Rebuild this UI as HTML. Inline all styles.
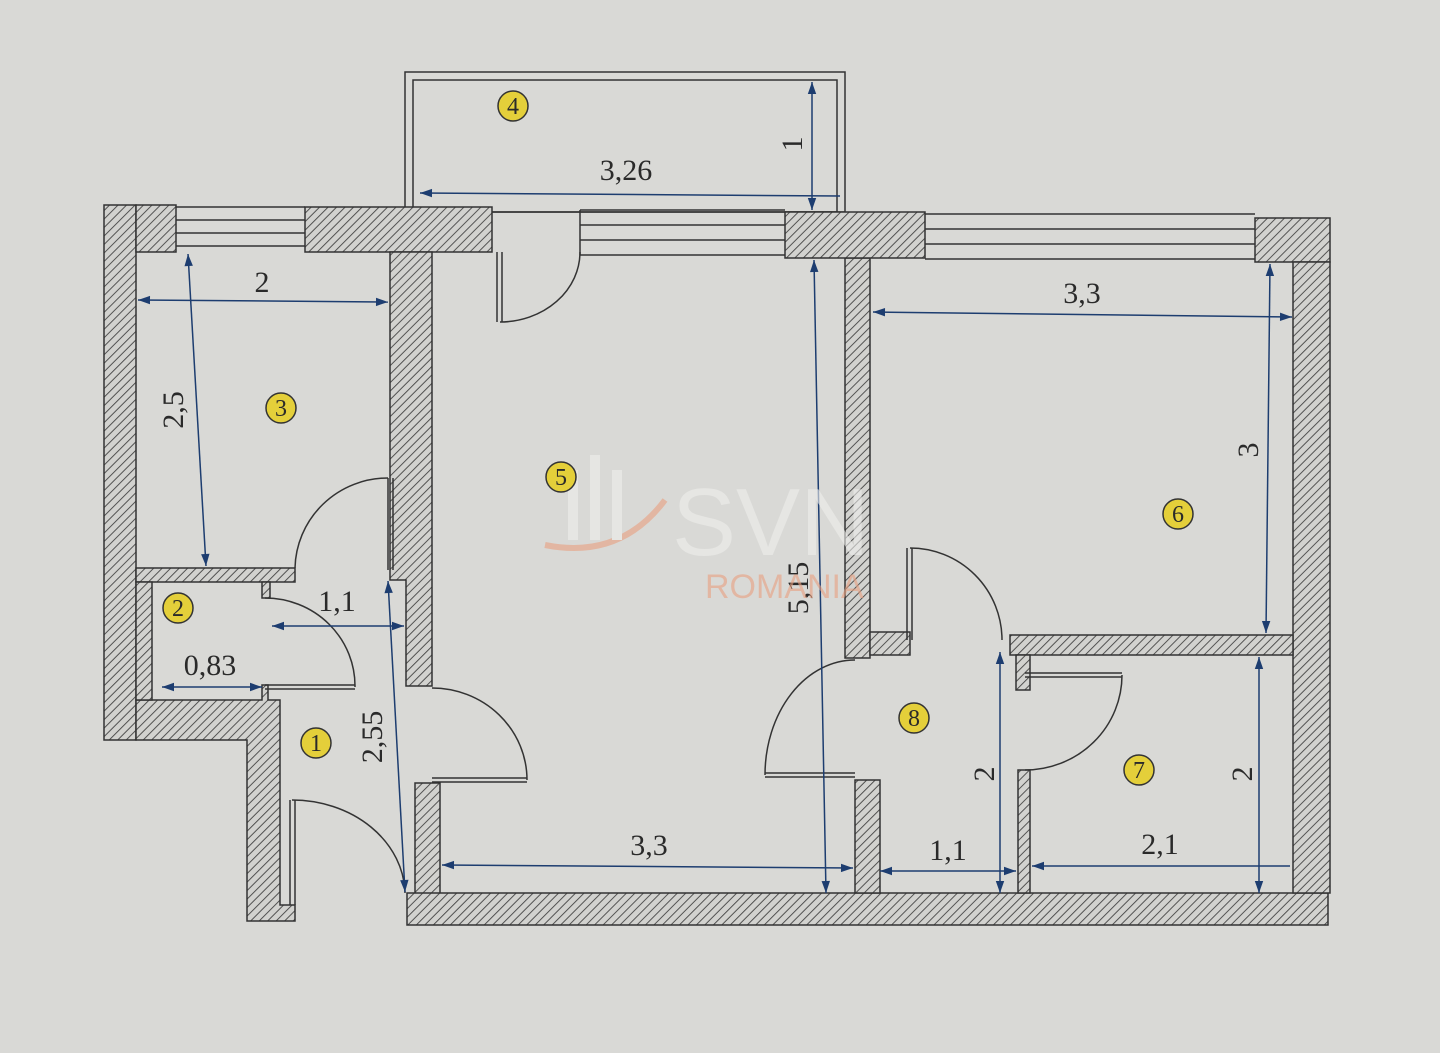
<!DOCTYPE html>
<html><head><meta charset="utf-8"><style>
html,body{margin:0;padding:0;background:#d9d9d6;}
svg{display:block}
text{font-family:"Liberation Serif",serif;fill:#2a2a2a}
</style></head><body>
<svg width="1440" height="1053" viewBox="0 0 1440 1053" xmlns="http://www.w3.org/2000/svg">
<defs>
<pattern id="h" width="6" height="6" patternUnits="userSpaceOnUse" patternTransform="rotate(45)">
<rect width="6" height="6" fill="#d2d2cf"/>
<line x1="0" y1="0" x2="0" y2="6" stroke="#444" stroke-width="1.8"/>
</pattern>
<marker id="a" viewBox="0 0 10 10" refX="10" refY="5" markerWidth="20" markerHeight="12" orient="auto-start-reverse" markerUnits="userSpaceOnUse">
<path d="M0,1.5 L10,5 L0,8.5 Z" fill="#1d3d70"/>
</marker>
</defs>
<rect width="1440" height="1053" fill="#d9d9d6"/>

<!-- balcony -->
<rect x="405" y="72" width="440" height="140" fill="none" stroke="#333" stroke-width="1.5"/>
<rect x="413" y="80" width="424" height="132" fill="none" stroke="#333" stroke-width="1.5"/>

<g fill="url(#h)" stroke="#333" stroke-width="1.5">
<rect x="104" y="205" width="32" height="535"/>
<rect x="136" y="205" width="40" height="47"/>
<rect x="305" y="207" width="187" height="45"/>
<polygon points="390,252 432,252 432,686 406,686 406,580 390,580"/>
<rect x="136" y="568" width="159" height="14"/>
<polygon points="136,700 262,700 262,685 268,685 268,700 280,700 280,905 295,905 295,921 247,921 247,740 136,740"/>
<rect x="136" y="582" width="16" height="118"/>
<rect x="262" y="582" width="8" height="16"/>
<rect x="415" y="783" width="25" height="112"/>
<rect x="407" y="893" width="921" height="32"/>
<rect x="845" y="258" width="25" height="400"/>
<rect x="870" y="632" width="40" height="23"/>
<rect x="855" y="780" width="25" height="113"/>
<rect x="785" y="212" width="140" height="46"/>
<rect x="1255" y="218" width="75" height="44"/>
<rect x="1293" y="262" width="37" height="631"/>
<rect x="1010" y="635" width="283" height="20"/>
<rect x="1016" y="655" width="14" height="35"/>
<rect x="1018" y="770" width="12" height="123"/>
</g>

<g stroke="#333" stroke-width="1.5" fill="none">
<path d="M176,207 H305 M176,220 H305 M176,233 H305 M176,246 H305"/>
<path d="M580,210 H785 M580,225 H785 M580,240 H785 M580,255 H785"/>
<path d="M925,214 H1255 M925,229 H1255 M925,244 H1255 M925,259 H1255"/>
<line x1="580" y1="210" x2="580" y2="255"/>
</g>

<g stroke="#333" stroke-width="1.5" fill="none">
<path d="M497,252 V322 M502,252 V322"/>
<path d="M500,322 A80,70 0 0 0 580,252"/>
<path d="M388,478 V570 M393,478 V570"/>
<path d="M388,478 A93,92 0 0 0 295,568"/>
<path d="M265,685 H355 M265,689 H355"/>
<path d="M355,687 A90,88 0 0 0 265,598"/>
<path d="M432,778 H527 M432,782 H527"/>
<path d="M527,780 A95,92 0 0 0 432,688"/>
<path d="M290,800 V905 M295,800 V905"/>
<path d="M292,800 A113,95 0 0 1 405,893"/>
<path d="M765,773 H855 M765,777 H855"/>
<path d="M765,775 A90,115 0 0 1 855,660"/>
<path d="M907,548 V640 M912,548 V640"/>
<path d="M910,548 A92,92 0 0 1 1002,640"/>
<path d="M1025,673 H1122 M1025,677 H1122"/>
<path d="M1122,675 A97,95 0 0 1 1025,770"/>
</g>

<g stroke="#1d3d70" stroke-width="1.5" fill="none">
<line x1="420" y1="193" x2="840" y2="196" marker-start="url(#a)"/>
<line x1="812" y1="82" x2="812" y2="210" marker-start="url(#a)" marker-end="url(#a)"/>
<line x1="138" y1="300" x2="388" y2="302" marker-start="url(#a)" marker-end="url(#a)"/>
<line x1="188" y1="254" x2="206" y2="566" marker-start="url(#a)" marker-end="url(#a)"/>
<line x1="272" y1="626" x2="404" y2="626" marker-start="url(#a)" marker-end="url(#a)"/>
<line x1="162" y1="687" x2="262" y2="687" marker-start="url(#a)" marker-end="url(#a)"/>
<line x1="388" y1="581" x2="405" y2="892" marker-start="url(#a)" marker-end="url(#a)"/>
<line x1="814" y1="260" x2="826" y2="893" marker-start="url(#a)" marker-end="url(#a)"/>
<line x1="442" y1="865" x2="853" y2="868" marker-start="url(#a)" marker-end="url(#a)"/>
<line x1="873" y1="312" x2="1292" y2="317" marker-start="url(#a)" marker-end="url(#a)"/>
<line x1="1270" y1="264" x2="1266" y2="633" marker-start="url(#a)" marker-end="url(#a)"/>
<line x1="880" y1="871" x2="1016" y2="871" marker-start="url(#a)" marker-end="url(#a)"/>
<line x1="1000" y1="652" x2="1000" y2="893" marker-start="url(#a)" marker-end="url(#a)"/>
<line x1="1032" y1="866" x2="1290" y2="866" marker-start="url(#a)"/>
<line x1="1259" y1="657" x2="1259" y2="893" marker-start="url(#a)" marker-end="url(#a)"/>
</g>

<g font-size="30">
<text x="626" y="180" text-anchor="middle">3,26</text>
<text x="262" y="292" text-anchor="middle">2</text>
<text x="1082" y="303" text-anchor="middle">3,3</text>
<text x="337" y="611" text-anchor="middle">1,1</text>
<text x="210" y="675" text-anchor="middle">0,83</text>
<text x="649" y="855" text-anchor="middle">3,3</text>
<text x="948" y="860" text-anchor="middle">1,1</text>
<text x="1160" y="854" text-anchor="middle">2,1</text>
<text transform="translate(802,144) rotate(-90)" text-anchor="middle">1</text>
<text transform="translate(183,410) rotate(-90)" text-anchor="middle">2,5</text>
<text transform="translate(382,737) rotate(-90)" text-anchor="middle">2,55</text>
<text transform="translate(808,588) rotate(-90)" text-anchor="middle">5,15</text>
<text transform="translate(1258,450) rotate(-90)" text-anchor="middle">3</text>
<text transform="translate(994,774) rotate(-90)" text-anchor="middle">2</text>
<text transform="translate(1252,774) rotate(-90)" text-anchor="middle">2</text>
</g>

<g opacity="0.6">
<text x="672" y="555" style="font-family:'Liberation Sans',sans-serif;font-size:96px;fill:#efefed">SVN</text>
<text x="705" y="598" style="font-family:'Liberation Sans',sans-serif;font-size:34px;fill:#e8a080">ROMANIA</text>
<path d="M545,545 Q620,560 665,500" stroke="#e8a080" stroke-width="6" fill="none"/>
<rect x="568" y="470" width="10" height="70" fill="#efefed"/>
<rect x="590" y="455" width="10" height="85" fill="#efefed"/>
<rect x="612" y="470" width="10" height="70" fill="#efefed"/>
</g>

<g stroke="#333" stroke-width="1.5" fill="#e4cf3a">
<circle cx="513" cy="106" r="15"/>
<circle cx="281" cy="408" r="15"/>
<circle cx="561" cy="477" r="15"/>
<circle cx="1178" cy="514" r="15"/>
<circle cx="178" cy="608" r="15"/>
<circle cx="316" cy="743" r="15"/>
<circle cx="914" cy="718" r="15"/>
<circle cx="1139" cy="770" r="15"/>
</g>
<g font-size="24" text-anchor="middle">
<text x="513" y="114">4</text>
<text x="281" y="416">3</text>
<text x="561" y="485">5</text>
<text x="1178" y="522">6</text>
<text x="178" y="616">2</text>
<text x="316" y="751">1</text>
<text x="914" y="726">8</text>
<text x="1139" y="778">7</text>
</g>
</svg>
</body></html>
